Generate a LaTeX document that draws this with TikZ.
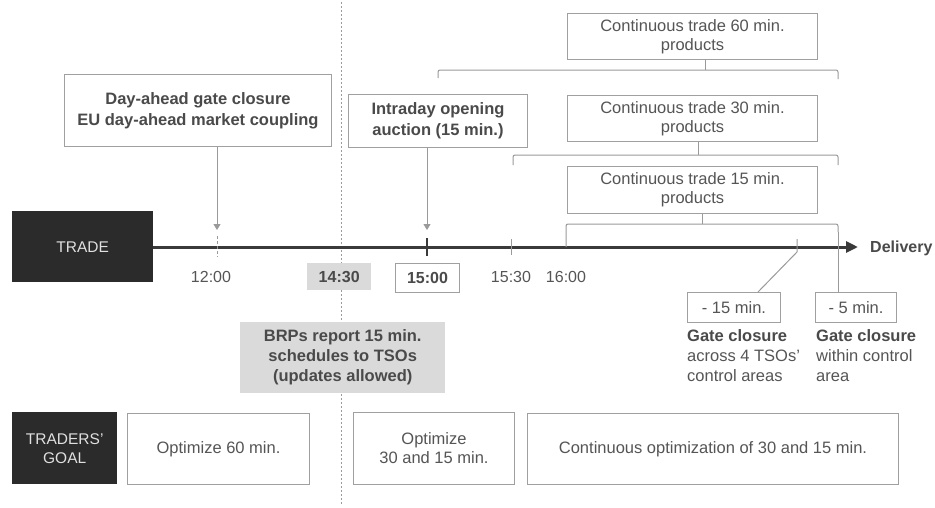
\documentclass[tikz,border=0pt]{standalone}
\usepackage{fontspec}
\setmainfont{Liberation Sans}
\usetikzlibrary{arrows.meta,calc}
\definecolor{txt}{HTML}{555555}
\definecolor{btxt}{HTML}{4A4A4A}
\definecolor{bordc}{HTML}{A0A0A0}
\definecolor{darkbox}{HTML}{2B2B2B}
\definecolor{lightfill}{HTML}{DADADA}
\definecolor{linec}{HTML}{3A3A3A}
\definecolor{thinc}{HTML}{9A9A9A}
\begin{document}
\begin{tikzpicture}[x=1pt,y=-1pt,
  box/.style={draw=bordc, line width=1pt, fill=white, text=txt, align=center,
    font=\fontsize{16.5}{19}\selectfont, inner sep=0pt, anchor=north west},
  bbox/.style={box, text=btxt, font=\fontsize{16.5}{21}\bfseries\selectfont},
  darkb/.style={fill=darkbox, draw=none, text=white!88!black, align=center,
    font=\fontsize{15.5}{19}\selectfont, inner sep=0pt, anchor=north west},
  grayb/.style={fill=lightfill, draw=none, text=btxt, align=center,
    font=\fontsize{16.5}{20}\bfseries\selectfont, inner sep=0pt, anchor=north west},
  lbl/.style={text=txt, font=\fontsize{16}{19}\selectfont, inner sep=0pt},
  brk/.style={draw=thinc, line width=1pt, rounded corners=2pt},
  thin/.style={draw=thinc, line width=1pt},
  pointer/.style={draw=thinc, line width=1pt, -{Triangle[length=6pt,width=7pt]}, shorten >=0pt},
]
\useasboundingbox (0,0) rectangle (935,507);
\fill[white] (0,0) rectangle (935,507);

% dotted separator
\draw[thinc, line width=1pt, dash pattern=on 2pt off 2pt] (341,2) -- (341,505);

% timeline
\node[darkb, minimum width=141pt, minimum height=71pt] (trade) at (12,211) {TRADE};
\coordinate (tip) at (858,247);
\draw[linec, line width=3pt, -{Triangle[length=12pt,width=11pt]}] (trade.east |- tip) -- (tip);
\node[text=btxt, font=\fontsize{16}{19}\bfseries\selectfont, anchor=west, inner sep=0pt] (deliv) at (870,248) {Delivery};

% ticks
\coordinate (t1200) at (217,247);
\coordinate (t1500) at (427,247);
\coordinate (t1530) at (511,247);
\coordinate (t1600) at (566,247);
\coordinate (tm15) at (797,247);
\coordinate (tm5) at (838,247);
\draw[thinc, line width=1pt, dash pattern=on 3pt off 2pt] ($(t1200)+(0,-11)$) -- ($(t1200)+(0,10)$);
\draw[linec, line width=1.8pt] ($(t1500)+(0,-9)$) -- ($(t1500)+(0,9)$);
\draw[thin] ($(t1530)+(0,-8)$) -- ($(t1530)+(0,8)$);

% time labels
\node[lbl] (l1200) at (211,277) {12:00};
\node[grayb, minimum width=64pt, minimum height=27pt, font=\fontsize{16}{19}\bfseries\selectfont] (l1430) at (307,263) {14:30};
\node[box, text=btxt, font=\fontsize{16}{19}\bfseries\selectfont, minimum width=64pt, minimum height=29pt] (l1500) at (395,263) {15:00};
\node[lbl] (l1530) at (511,277) {15:30};
\node[lbl] (l1600) at (566,277) {16:00};

% top event boxes
\node[bbox, minimum width=267pt, minimum height=72pt] (da) at (64,74) {Day-ahead gate closure\\EU day-ahead market coupling};
\node[bbox, minimum width=179pt, minimum height=53pt] (ida) at (348,94) {Intraday opening\\auction (15 min.)};
\coordinate (a1) at (217,230);
\coordinate (a2) at (427,230);
\draw[pointer] (da.south -| a1) -- (a1);
\draw[pointer] (ida.south -| a2) -- (a2);

% continuous trade boxes
\node[box, minimum width=250pt, minimum height=46pt] (c60) at (567,13) {Continuous trade 60 min.\\products};
\node[box, minimum width=250pt, minimum height=46pt] (c30) at (567,95) {Continuous trade 30 min.\\products};
\node[box, minimum width=250pt, minimum height=47pt] (c15) at (567,166) {Continuous trade 15 min.\\products};

% brackets
\draw[brk] (438,78) -- (438,70) -- (838,70) -- (838,79);
\draw[thin] (705,70) -- (705,0 |- c60.south);
\draw[brk] (513,165) -- (513,155) -- (838,155) -- (838,165);
\draw[thin] (698,155) -- (698,0 |- c30.south);
\draw[brk] (t1600) -- (566,224) -- (838,224) -- (838,232);
\draw[thin] (702,224) -- (702,0 |- c15.south);

% gate closure boxes
\node[box, minimum width=93pt, minimum height=30pt] (g15) at (687,292) {- 15 min.};
\node[box, minimum width=81pt, minimum height=30pt] (g5) at (815,292) {- 5 min.};
\draw[thin] (838,232) -- (tm5 |- g5.north);
\draw[thin] ($(tm15)+(0,-8)$) -- ($(tm15)+(0,5)$) -- (758,292);

\node[lbl, anchor=north west, align=left, font=\fontsize{16.5}{20}\selectfont] (gt15) at (687,329)
  {\textcolor{btxt}{\bfseries Gate closure}\\across 4 TSOs'\\control areas};
\node[lbl, anchor=north west, align=left, font=\fontsize{16.5}{20}\selectfont] (gt5) at (816,329)
  {\textcolor{btxt}{\bfseries Gate closure}\\within control\\area};

% BRP box
\node[grayb, minimum width=205pt, minimum height=71pt] (brp) at (240,322) {BRPs report 15 min.\\schedules to TSOs\\(updates allowed)};

% traders' goal row
\node[darkb, minimum width=105pt, minimum height=72pt] (goal) at (12,412) {TRADERS'\\GOAL};
\node[box, minimum width=182pt, minimum height=71pt] (o60) at (127,413) {Optimize 60 min.};
\node[box, minimum width=161pt, minimum height=72pt] (o30) at (353,412) {Optimize\\30 and 15 min.};
\node[box, minimum width=371pt, minimum height=71pt] (ocont) at (527,413) {Continuous optimization of 30 and 15 min.};
\end{tikzpicture}
\end{document}
